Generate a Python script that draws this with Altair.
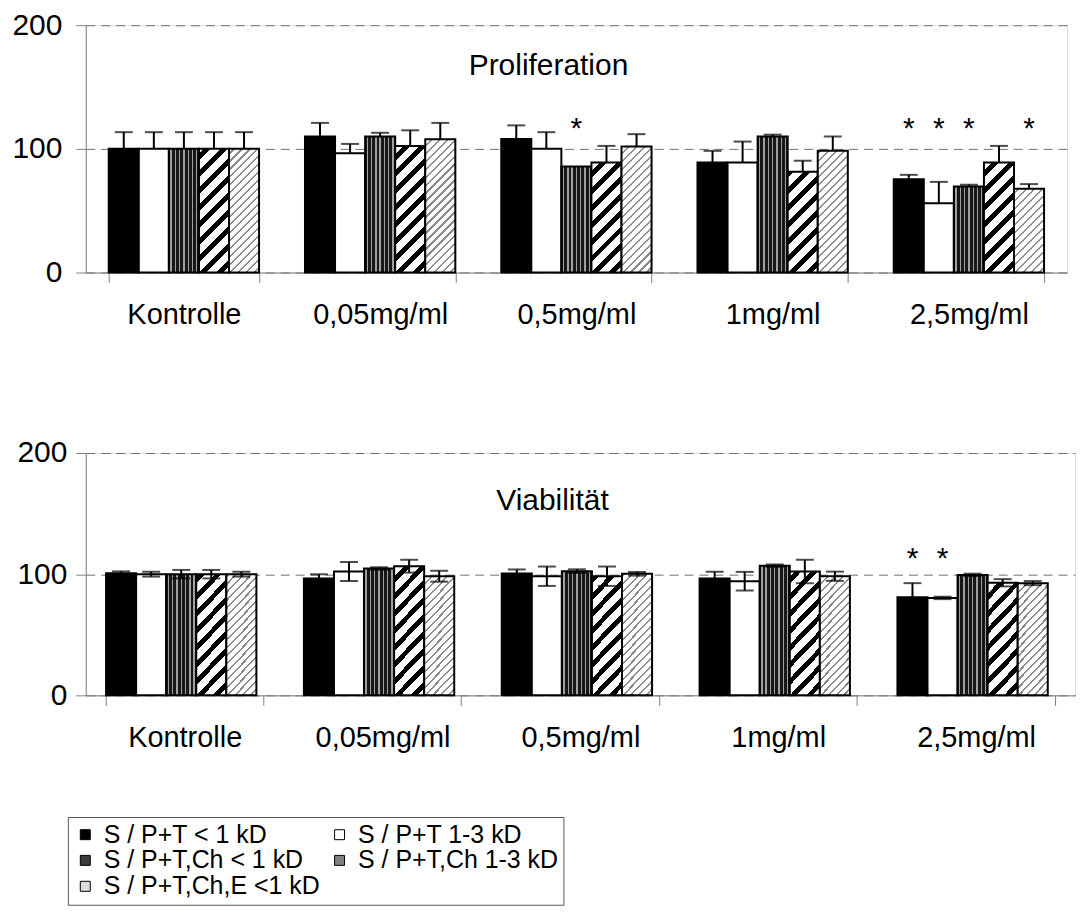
import math
import altair as alt
import pandas as pd

FONT = "Liberation Sans"
GRAY = "#808080"

categories = ["Kontrolle", "0,05mg/ml", "0,5mg/ml", "1mg/ml", "2,5mg/ml"]
series = ["S / P+T < 1 kD", "S / P+T 1-3 kD", "S / P+T,Ch < 1 kD",
          "S / P+T,Ch 1-3 kD", "S / P+T,Ch,E <1 kD"]

# Proliferation (rows = categories, columns = series)
prolif_mean = [
    [100, 100, 100, 100, 100],
    [110, 96.5, 110, 102.4, 107.8],
    [108, 100, 85.7, 88.9, 101.9],
    [88.9, 88.9, 110, 81.4, 98.4],
    [75.5, 56, 69.5, 88.9, 67.7],
]
prolif_err = [
    [13.5, 13.5, 13.5, 13.5, 13.5],
    [11, 7.5, 3, 12.6, 13.2],
    [11, 13.5, 0, 13.5, 10],
    [9.5, 17, 1.5, 9, 11.6],
    [3.5, 17.3, 1.5, 13.5, 3.8],
]
prolif_star = [
    [0, 0, 0, 0, 0],
    [0, 0, 0, 0, 0],
    [0, 0, 1, 0, 0],
    [0, 0, 0, 0, 0],
    [1, 1, 1, 0, 1],
]
prolif_star_level = 120.4

# Viabilität
viab_mean = [
    [100.8, 100, 100, 100, 100],
    [96.5, 102.2, 104.7, 106.6, 98.3],
    [100.5, 98.3, 102.5, 98.3, 100.3],
    [96.4, 94.2, 107, 102.2, 98.3],
    [81, 80.4, 99.4, 92.9, 92.6],
]
viab_err = [
    [1.5, 2, 3.5, 3.5, 2],
    [3.4, 7.8, 1, 5.3, 4.5],
    [3.4, 8, 1.5, 8, 1.5],
    [5.6, 7.7, 1, 9.7, 3.8],
    [11.6, 1, 1, 3, 1.7],
]
viab_star = [
    [0, 0, 0, 0, 0],
    [0, 0, 0, 0, 0],
    [0, 0, 0, 0, 0],
    [0, 0, 0, 0, 0],
    [1, 1, 0, 0, 0],
]
viab_star_level = 116.4

# in-plot titles: text, anchor category, value level
titles = {"top": ("Proliferation", "0,5mg/ml", 167.2),
          "bottom": ("Viabilität", "0,5mg/ml", 160.0)}

legend_colors = ["black", "white", "#3c3c3c", "#808080", "#dcdcdc"]

# layout constants
TOP_W, TOP_H, TOP_PI = 984, 248, 0.234
BOT_W, BOT_H, BOT_PI = 992, 243, 0.205


def make_df(means, errs, stars, star_level):
    rows = []
    for ci, c in enumerate(categories):
        for si, s in enumerate(series):
            m = means[ci][si]
            e = errs[ci][si]
            rows.append(dict(cat=c, series=s, sidx=si, idx=ci * 5 + si,
                             mean=m, err=e, hi=m + e, lo=m - e,
                             star=stars[ci][si], star_y=star_level))
    return pd.DataFrame(rows)


def hatch(w, h, period, thick, color, bg="white"):
    """Diagonal '/' stripes as a bbox-relative linear gradient."""
    L = w + h
    k = L / (w * w + h * h)
    stops = [{"offset": 0, "color": bg}]
    q = h - math.ceil(h / period) * period
    while q < L:
        a, b = max(q, 0), min(q + thick, L)
        if b > a:
            a, b = round(a / L, 5), round(b / L, 5)
            stops += [{"offset": a, "color": bg}, {"offset": a, "color": color},
                      {"offset": b, "color": color}, {"offset": b, "color": bg}]
        q += period
    stops.append({"offset": 1, "color": bg})
    return {"gradient": "linear", "x1": 0, "y1": 0,
            "x2": round(k * w, 5), "y2": round(k * h, 5), "stops": stops}


def vstripes(n, frac, dark, light):
    stops = [{"offset": 0, "color": dark}]
    for i in range(n):
        a = (i + 0.5 - frac / 2) / n
        b = (i + 0.5 + frac / 2) / n
        a, b = round(a, 5), round(b, 5)
        stops += [{"offset": a, "color": dark}, {"offset": a, "color": light},
                  {"offset": b, "color": light}, {"offset": b, "color": dark}]
    stops.append({"offset": 1, "color": dark})
    return {"gradient": "linear", "x1": 0, "y1": 0, "x2": 1, "y2": 0, "stops": stops}


def fill_conditions(df, W, H, pi):
    w = W / 5 * (1 - pi) / 5
    conds = []
    for r in df.itertuples():
        h = r.mean * H / 200
        if r.sidx == 3:
            g = hatch(w, h, 17, 7, "black")
        elif r.sidx == 4:
            g = hatch(w, h, 8, 2.2, "#8a8a8a")
        else:
            continue
        conds.append({"test": f"datum.idx === {r.idx}", "value": g})
    conds.append({"test": "datum.sidx === 2", "value": vstripes(7, 0.32, "#181818", "#a0a0a0")})
    return conds


def build(df, W, H, pi, title, ylp, two_sided, legend):
    xs = alt.Scale(paddingInner=pi, paddingOuter=pi / 2)
    x_axis = alt.Axis(title=None, labelFontSize=29, labelFont=FONT, labelColor="black",
                      labelPadding=18, tickSize=10, tickColor=GRAY, domainColor=GRAY,
                      tickBand="extent", labelAngle=0, grid=False)
    y_axis = alt.Axis(values=[0, 100, 200], title=None, labelFontSize=30, labelFont=FONT,
                      labelColor="black", labelPadding=ylp, tickSize=10, tickColor=GRAY,
                      domainColor=GRAY, grid=True, gridColor="#707070", gridDash=[9, 6],
                      gridWidth=1)
    ys = alt.Scale(domain=[0, 200], nice=False)
    X = alt.X("cat:N", sort=categories, scale=xs, axis=x_axis)
    XO = alt.XOffset("series:N", sort=series,
                     scale=alt.Scale(domain=series, paddingInner=0, paddingOuter=0))

    color = alt.Color(field="series", type="nominal",
                      scale=alt.Scale(domain=series, range=legend_colors),
                      legend=legend, condition=fill_conditions(df, W, H, pi))

    base = alt.Chart(df)
    bars = base.mark_bar(stroke="black", strokeWidth=2).encode(
        x=X, xOffset=XO, y=alt.Y("mean:Q", scale=ys, axis=y_axis), color=color)

    eb_src = base.transform_filter("datum.err > 0")
    if two_sided:
        rule = eb_src.mark_rule(color="black", strokeWidth=2).encode(
            x=X, xOffset=XO, y=alt.Y("lo:Q", scale=ys), y2="hi:Q")
        cap_lo = eb_src.mark_tick(orient="horizontal", size=18, thickness=2, color="black").encode(
            x=X, xOffset=XO, y=alt.Y("lo:Q", scale=ys))
    else:
        rule = eb_src.mark_rule(color="black", strokeWidth=2).encode(
            x=X, xOffset=XO, y=alt.Y("mean:Q", scale=ys), y2="hi:Q")
        cap_lo = None
    cap_hi = eb_src.mark_tick(orient="horizontal", size=18, thickness=2, color="black").encode(
        x=X, xOffset=XO, y=alt.Y("hi:Q", scale=ys))

    stars = base.transform_filter("datum.star == 1").mark_text(
        text="*", fontSize=30, font=FONT, color="black", baseline="middle", dy=5).encode(
        x=X, xOffset=XO, y=alt.Y("star_y:Q", scale=ys))

    ttext, tcat, tlevel = title
    title_mark = alt.Chart(df).transform_filter("datum.idx == 0").mark_text(
        text=ttext, fontSize=30, font=FONT, color="black", baseline="middle",
        align="center", dx=-28).encode(
        x=alt.X(datum=tcat, type="nominal", scale=xs), y=alt.Y(datum=tlevel, type="quantitative", scale=ys))

    layers = [bars, rule, cap_hi] + ([cap_lo] if cap_lo is not None else []) + [stars, title_mark]
    return alt.layer(*layers).properties(width=W, height=H)


prolif_df = make_df(prolif_mean, prolif_err, prolif_star, prolif_star_level)
viab_df = make_df(viab_mean, viab_err, viab_star, viab_star_level)

legend = alt.Legend(orient="none", legendX=-18, legendY=365, columns=2, direction="horizontal",
                    title=None, labelFontSize=25, labelFont=FONT, labelColor="black",
                    labelLimit=500, symbolType="square", symbolSize=100,
                    symbolStrokeColor="black", symbolStrokeWidth=1, strokeColor="#555555",
                    padding=5, rowPadding=-1.5, columnPadding=7, labelOffset=6,
                    symbolOffset=0)

top = build(prolif_df, TOP_W, TOP_H, TOP_PI, titles["top"], 14, False, None)
bottom = build(viab_df, BOT_W, BOT_H, BOT_PI, titles["bottom"], 9, True, legend)

chart = alt.concat(top, bottom, columns=1, spacing=107, align="none").resolve_scale(
    color="independent", x="independent", y="independent"
).properties(
    padding={"left": 3, "top": 0, "right": 0, "bottom": 0}
).configure_view(stroke=None).configure(background="white")

chart.save("out.html", embed_options={"renderer": "svg", "actions": False})
